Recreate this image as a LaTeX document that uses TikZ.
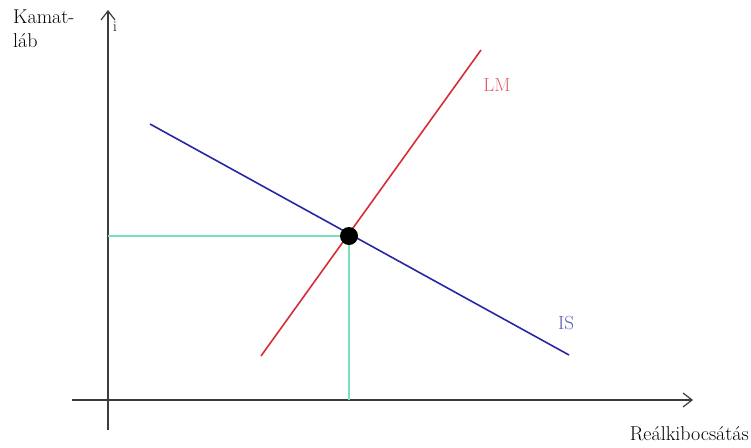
\documentclass[tikz,border=0pt]{standalone}
\usetikzlibrary{arrows.meta}
\definecolor{lmred}{RGB}{215,45,55}
\definecolor{isblue}{RGB}{40,40,165}
\definecolor{mint}{RGB}{120,225,185}
\definecolor{axisgray}{RGB}{60,60,60}
\begin{document}
\begin{tikzpicture}[x=1pt,y=-1pt,
  axis/.style={draw=axisgray,line width=1.3pt,-{Straight Barb[length=9pt,width=14pt,line width=1.2pt]}},
  curve/.style={line width=1.6pt},
  guide/.style={draw=mint,line width=1.2pt},
  lbl/.style={font=\fontsize{20}{24}\selectfont,inner sep=0pt},
  curvelbl/.style={font=\fontsize{19}{21}\selectfont,inner sep=0pt}]
\useasboundingbox[fill=white] (0,0) rectangle (751,447);
% axes
\coordinate (ybot) at (108,430);
\coordinate (ytop) at (108,10);
\coordinate (xl) at (72,400);
\coordinate (xr) at (693,400);
\draw[axis] (ybot) -- (ytop);
\draw[axis] (xl) -- (xr);
% curves
\coordinate (lm1) at (261,356);
\coordinate (lm2) at (481,50);
\coordinate (is1) at (150,124);
\coordinate (is2) at (569,355);
\coordinate (eq) at (349,236);
\coordinate (eqy) at (108,236);
\coordinate (eqx) at (349,400);
\draw[guide] (eqy) -- (eq);
\draw[guide] (eq) -- (eqx);
\draw[curve,draw=isblue] (is1) -- (is2);
\draw[curve,draw=lmred] (lm1) -- (lm2);
\fill[black] (eq) circle (9pt);
% labels
\node[lbl,anchor=north west,align=left] (ylab) at (13,10) {Kamat-\\láb};
\node[lbl,font=\fontsize{15}{17}\selectfont] (ilab) at (115,27) {i};
\node[lbl,anchor=north east] (xlab) at (749,426) {Reálkibocsátás};
\node[curvelbl,text=lmred!75] (lmlab) at (497,85) {LM};
\node[curvelbl,text=isblue!75] (islab) at (566,323) {IS};
\end{tikzpicture}
\end{document}
